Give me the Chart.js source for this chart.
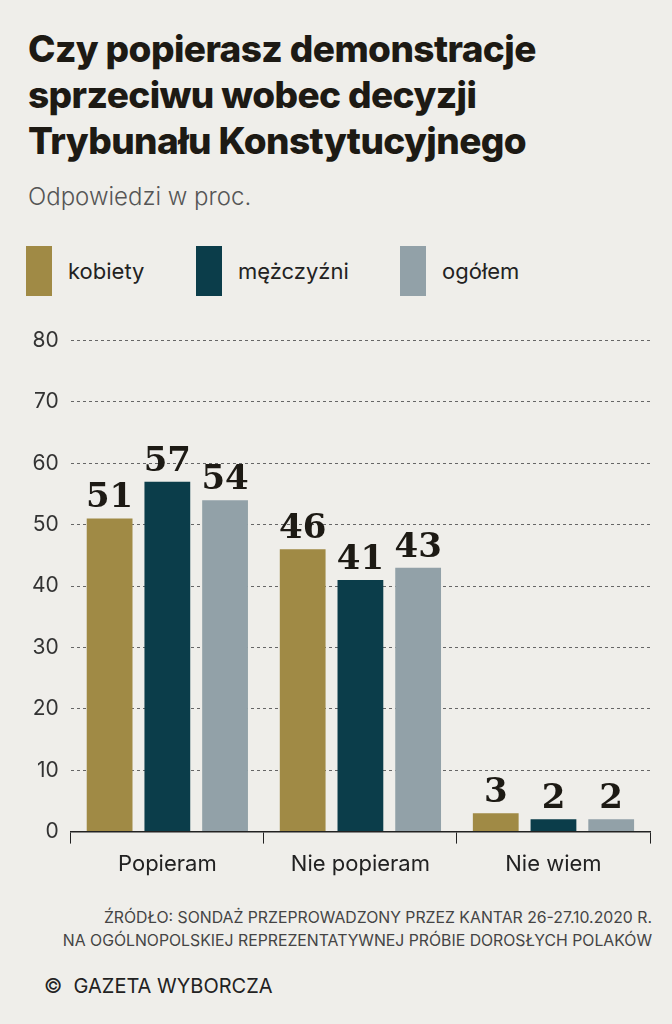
<!DOCTYPE html>
<html><head><meta charset="utf-8">
<script src="https://cdn.jsdelivr.net/npm/chart.js@4"></script>
<style>
body{margin:0;width:672px;height:1024px;background:#efeeea;font-family:Inter,"Noto Sans",sans-serif;position:relative;overflow:hidden;color:#1d1a14}
h1{position:absolute;left:28px;top:26px;margin:0;font-size:37px;line-height:46px;font-weight:800;letter-spacing:-0.6px;color:#1d1a14}
.sub{position:absolute;left:28px;top:182px;font-size:24px;color:#555;font-weight:300}
.leg{position:absolute;top:246px;display:flex;align-items:center;font-size:22px;color:#222}
.leg span{display:inline-block;width:26px;height:50px;margin-right:16px}
.src{position:absolute;right:20px;top:906px;text-align:right;font-size:15.8px;line-height:23px;color:#444}
.copy{position:absolute;left:44px;top:974px;font-size:20px;color:#222}
#wrap{position:absolute;left:0;top:316px;width:672px;height:580px}
</style></head><body>
<h1>Czy popierasz demonstracje<br>sprzeciwu wobec decyzji<br>Trybunału Konstytucyjnego</h1>
<div class="sub">Odpowiedzi w proc.</div>
<div class="leg" style="left:26px"><span style="background:#a08a45"></span>kobiety</div>
<div class="leg" style="left:196px"><span style="background:#0b3d4a"></span>mężczyźni</div>
<div class="leg" style="left:400px"><span style="background:#92a1a8"></span>ogółem</div>
<div id="wrap"><canvas id="c"></canvas></div>
<div class="src">ŹRÓDŁO: SONDAŻ PRZEPROWADZONY PRZEZ KANTAR 26-27.10.2020 R.<br>NA OGÓLNOPOLSKIEJ REPREZENTATYWNEJ PRÓBIE DOROSŁYCH POLAKÓW</div>
<div class="copy">©&nbsp; GAZETA WYBORCZA</div>
<script>
const categories=["Popieram","Nie popieram","Nie wiem"];
const kobiety=[51,46,3];
const mezczyzni=[57,41,2];
const ogolem=[54,43,2];
const yTicks=[0,10,20,30,40,50,60,70,80];
const labelPlugin={id:'lbl',afterDatasetsDraw(ch){const c=ch.ctx;c.save();c.font='bold 34px "DejaVu Serif","Liberation Serif",serif';c.fillStyle='#1d1a14';c.textAlign='center';c.textBaseline='bottom';
ch.data.datasets.forEach((d,i)=>{ch.getDatasetMeta(i).data.forEach((b,j)=>{c.fillText(d.data[j],b.x,b.y-3);});});c.restore();}};
new Chart(document.getElementById('c'),{type:'bar',
data:{labels:categories,datasets:[
{label:'kobiety',data:kobiety,backgroundColor:'#a08a45'},
{label:'mężczyźni',data:mezczyzni,backgroundColor:'#0b3d4a'},
{label:'ogółem',data:ogolem,backgroundColor:'#92a1a8'}]},
options:{responsive:true,maintainAspectRatio:false,animation:false,
layout:{padding:{top:12,right:22,left:20,bottom:10}},
barPercentage:0.793,categoryPercentage:0.897,
plugins:{legend:{display:false},tooltip:{enabled:false}},
scales:{
x:{grid:{offset:true,drawOnChartArea:false,color:'#222',tickLength:12},border:{color:'#222',width:1.5},ticks:{color:'#222',font:{size:22,family:'Inter'},padding:8}},
y:{min:0,max:80,afterBuildTicks:a=>{a.ticks=yTicks.map(v=>({value:v}));},grid:{color:'#666',drawTicks:false},border:{display:false,dash:[3,3]},ticks:{color:'#333',font:{size:21,family:'Inter'},padding:12}}
}},plugins:[labelPlugin]});
</script></body></html>
